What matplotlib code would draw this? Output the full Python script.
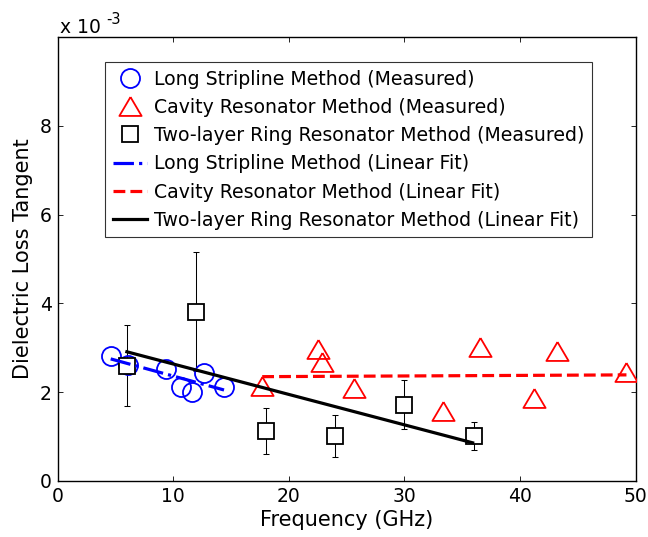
import matplotlib
matplotlib.use("Agg")
import matplotlib.pyplot as plt
import numpy as np

# Long stripline method (measured), frequency in GHz, loss tangent in units of 1e-3
stripline_freq = [4.6, 6.1, 9.4, 10.7, 11.6, 12.7, 14.4]
stripline_tand = [2.82, 2.62, 2.53, 2.12, 2.01, 2.44, 2.12]

# Cavity resonator method (measured)
cavity_freq = [17.7, 22.5, 22.9, 25.6, 33.3, 36.5, 41.2, 43.2, 49.2]
cavity_tand = [2.14, 2.98, 2.69, 2.10, 1.58, 3.02, 1.87, 2.93, 2.46]

# Two-layer ring resonator method (measured) with uncertainty
ring_freq = [6, 12, 18, 24, 30, 36]
ring_tand = [2.60, 3.81, 1.12, 1.02, 1.72, 1.02]
ring_err = [0.91, 1.34, 0.52, 0.47, 0.55, 0.32]

# Linear fits (end points)
stripline_fit_freq = [4.6, 14.4]
stripline_fit_tand = [2.75, 2.05]
cavity_fit_freq = [17.7, 49.2]
cavity_fit_tand = [2.35, 2.39]
ring_fit_freq = [6.0, 35.9]
ring_fit_tand = [2.91, 0.86]

x_ticks = [0, 10, 20, 30, 40, 50]
y_ticks = [0, 2, 4, 6, 8]

plt.rcParams['font.family'] = ['DejaVu Sans']
TICK_FS = 13.5
LABEL_FS = 15
LEG_FS = 13.6

fig = plt.figure(figsize=(6.48, 5.37), dpi=100)
W, H = 648, 537
ax = fig.add_axes([57.5 / W, 1 - 481 / H, (635.7 - 57.5) / W, (481 - 37) / H])

tri = [(0, 0.85), (-1, -0.85), (1, -0.85), (0, 0.85)]

ax.errorbar(ring_freq, ring_tand, yerr=ring_err, fmt='none', ecolor='black',
            elinewidth=0.75, capsize=2.5, capthick=0.75, zorder=2)

h1, = ax.plot(stripline_freq, stripline_tand, linestyle='none', marker='o',
              markersize=13.7, mfc='none', mec='blue', mew=1.3, zorder=3,
              label='Long Stripline Method (Measured)')
h2, = ax.plot(cavity_freq, cavity_tand, linestyle='none', marker=tri,
              markersize=16, mfc='none', mec='red', mew=1.3, zorder=3,
              label='Cavity Resonator Method (Measured)')
h3, = ax.plot(ring_freq, ring_tand, linestyle='none', marker='s',
              markersize=11, mfc='white', mec='black', mew=1.3, zorder=3,
              label='Two-layer Ring Resonator Method (Measured)')

h4, = ax.plot(stripline_fit_freq, stripline_fit_tand, color='blue', linestyle='-.',
              linewidth=2.3, zorder=4, label='Long Stripline Method (Linear Fit)')
h5, = ax.plot(cavity_fit_freq, cavity_fit_tand, color='red', linestyle='--',
              linewidth=2.3, zorder=4, label='Cavity Resonator Method (Linear Fit)')
h6, = ax.plot(ring_fit_freq, ring_fit_tand, color='black', linestyle='-',
              linewidth=2.3, zorder=4, label='Two-layer Ring Resonator Method (Linear Fit)')

ax.set_xlim(0, 50)
ax.set_ylim(0, 10)
ax.set_xticks(x_ticks)
ax.set_yticks(y_ticks)
ax.tick_params(direction='in', top=True, right=True, length=3.5, width=0.6,
               labelsize=TICK_FS, pad=4)
for s in ax.spines.values():
    s.set_linewidth(1.0)

ax.set_xlabel('Frequency (GHz)', fontsize=LABEL_FS, labelpad=3)
ax.set_ylabel('Dielectric Loss Tangent', fontsize=LABEL_FS, labelpad=5)

fig.text(60 / W, 1 - 33 / H, 'x 10', fontsize=TICK_FS, ha='left', va='baseline')
fig.text(106 / W, 1 - 24 / H, '-3', fontsize=TICK_FS - 3, ha='left', va='baseline')

leg = ax.legend(handles=[h1, h2, h3, h4, h5, h6], loc='upper left',
                bbox_to_anchor=(105 / W, 1 - 62 / H), bbox_transform=fig.transFigure,
                borderaxespad=0, fontsize=LEG_FS, frameon=True, fancybox=False,
                handlelength=1.8, handletextpad=0.4, labelspacing=0.49,
                borderpad=0.4, numpoints=1)
leg.get_frame().set_edgecolor('black')
leg.get_frame().set_linewidth(0.8)
leg.set_zorder(10)

fig.savefig('out.png', dpi=100)
